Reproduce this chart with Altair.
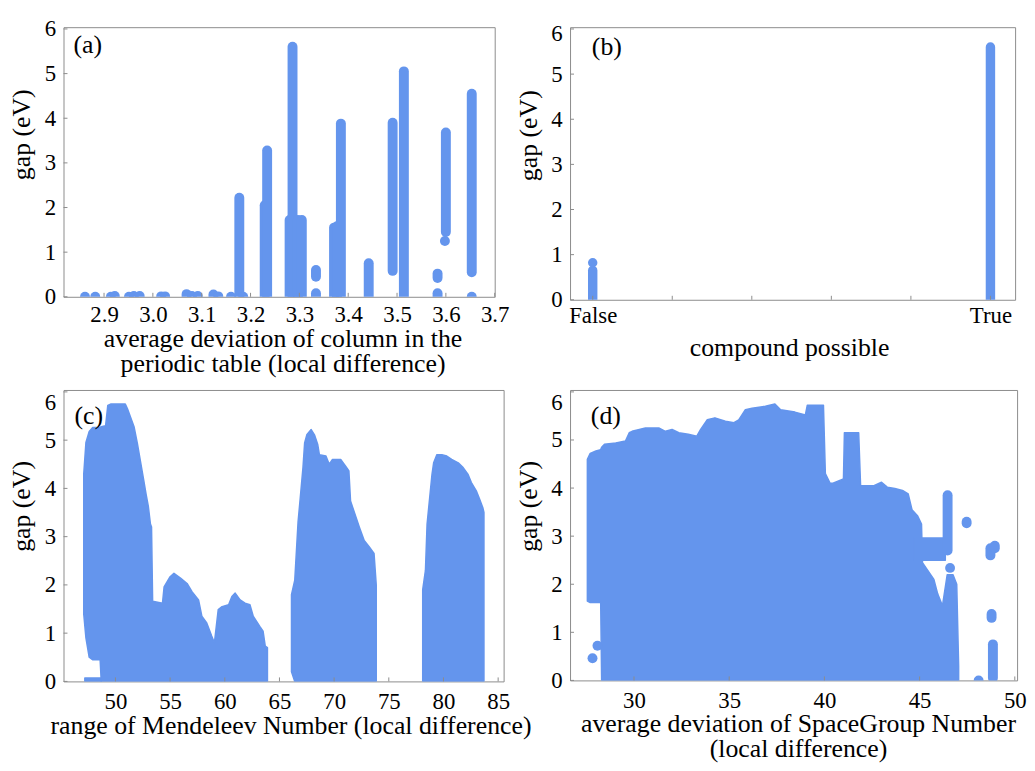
import altair as alt
import pandas as pd

BLUE = "#6495ED"
FRAME = "#8c8c8c"
FONT = "Liberation Serif"

# ---------------- panel (a): vertical runs of points (x, gap low, gap high)
A_X = [2.861, 2.882, 2.914, 2.922, 2.951, 2.961, 2.973, 3.017, 3.025, 3.069, 3.080, 3.092,
       3.124, 3.134, 3.160, 3.177, 3.185, 3.229, 3.234, 3.280, 3.286, 3.297, 3.305, 3.334,
       3.334, 3.371, 3.377, 3.385, 3.442, 3.491, 3.514, 3.583, 3.583, 3.598, 3.600, 3.653, 3.653]
A_LO = [0, 0, 0, 0, 0, 0, 0, 0, 0, 0, 0, 0, 0, 0, 0, 0, 0, 0, 0, 0, 0, 0, 0, 0,
        0.45, 0, 0, 0, 0, 0.58, 0, 0, 0.42, 1.25, 1.45, 0, 0.55]
A_HI = [0, 0, 0, 0.02, 0, 0.02, 0.02, 0.01, 0.01, 0.06, 0.02, 0.02, 0.05, 0.01, 0.0, 2.22,
        0.0, 2.05, 3.28, 1.72, 5.6, 1.72, 1.72, 0.08, 0.6, 1.55, 1.58, 3.88, 0.75, 3.9, 5.05,
        0.08, 0.52, 1.25, 3.68, 0, 4.55]
A_TICKS = [2.9, 3.0, 3.1, 3.2, 3.3, 3.4, 3.5, 3.6, 3.7]

# ---------------- panel (b)
B_X = [0, 0, 1]
B_LO = [0, 0.82, 0]
B_HI = [0.65, 0.82, 5.6]
B_TICKS = [0, 0.2, 0.4, 0.6, 0.8, 1.0]
B_LABELS = [0, 1]

# ---------------- panel (c): envelopes of the dense point clouds
C0_X = [47.2, 48.7]
C0_LO = [0, 0]
C0_HI = [0.07, 0.07]
C1_X = [47.1, 47.3, 47.6, 47.9, 48.6, 48.7, 49.1, 49.3, 49.6, 50.9, 51.1, 51.7, 52.0, 52.6,
        52.8, 53.0, 53.2, 53.3, 53.4, 54.3, 54.45, 55.0, 55.35, 55.95, 56.55, 57.0, 57.6,
        57.9, 58.35, 58.8, 59.05, 59.4, 59.75, 60.35, 60.65, 60.95, 61.4, 61.85, 62.3, 62.6,
        63.2, 63.5, 63.7, 63.9]
C1_LO = [1.4, 0.9, 0.5, 0.45, 0.45] + [0] * 39
C1_HI = [4.3, 4.95, 5.18, 5.26, 5.26, 5.28, 5.3, 5.72, 5.75, 5.75, 5.65, 5.28, 4.94, 4.15,
         3.88, 3.64, 3.26, 3.2, 1.66, 1.62, 1.96, 2.17, 2.24, 2.14, 2.03, 1.86, 1.69, 1.35,
         1.21, 0.94, 0.8, 1.49, 1.55, 1.59, 1.76, 1.83, 1.69, 1.62, 1.59, 1.35, 1.14, 1.04,
         0.73, 0.7]
C2_X = [66.1, 66.4, 66.7, 66.9, 67.15, 67.3, 67.5, 67.9, 68.2, 68.5, 68.65, 69.25, 69.55,
        69.85, 70.6, 71.05, 71.35, 71.5, 72.0, 72.3, 72.75, 73.2, 73.65, 73.85]
C2_LO = [0.2] + [0] * 23
C2_HI = [1.8, 2.1, 3.3, 3.8, 4.43, 4.94, 5.11, 5.22, 5.11, 4.91, 4.7, 4.67, 4.5, 4.6, 4.6,
         4.46, 4.36, 3.74, 3.4, 3.2, 2.92, 2.79, 2.65, 2.0]
C3_X = [78.1, 78.35, 78.5, 78.8, 78.95, 79.1, 79.4, 79.85, 80.3, 80.75, 81.35, 81.8, 82.25,
        82.55, 83.0, 83.3, 83.6, 83.7]
C3_LO = [0] * 18
C3_HI = [1.9, 2.3, 3.26, 3.95, 4.29, 4.53, 4.7, 4.7, 4.67, 4.6, 4.53, 4.43, 4.29, 4.12, 3.95,
         3.78, 3.6, 3.5]
C_TICKS = [50, 55, 60, 65, 70, 75, 80, 85]

# ---------------- panel (d)
D1_X = [27.55, 27.7, 28.0, 28.25, 28.3, 28.45, 29.05, 29.55, 29.75, 29.9, 30.6, 31.3, 31.65,
        32.0, 32.35, 32.85, 33.3, 33.5, 33.85, 34.25, 34.8, 35.25, 35.5, 35.85, 36.2, 36.9,
        37.4, 37.7, 38.45, 39.0, 39.1, 39.95, 40.05, 40.3, 40.45, 41.0, 41.05, 41.8, 41.9,
        42.6, 43.0, 43.3, 43.7, 44.1, 44.4, 44.6, 44.9, 45.1, 45.15, 45.75, 45.95, 46.2,
        46.45, 46.75, 46.95, 47.05]
D1_LO = [1.65, 1.62, 1.62, 1.62] + [0] * 52
D1_HI = [4.6, 4.72, 4.77, 4.8, 4.85, 4.91, 4.94, 4.98, 5.15, 5.18, 5.25, 5.25, 5.18, 5.22,
         5.15, 5.12, 5.08, 5.22, 5.42, 5.46, 5.39, 5.36, 5.42, 5.63, 5.66, 5.7, 5.75, 5.63,
         5.58, 5.52, 5.72, 5.72, 4.3, 4.1, 4.1, 4.19, 5.15, 5.15, 4.05, 4.05, 4.12, 4.02,
         3.99, 3.95, 3.88, 3.55, 3.42, 3.25, 2.45, 2.1, 1.8, 1.55, 2.2, 2.2, 2.0, 0.3]
D2_X = [44.7, 46.35]
D2_LO = [2.5, 2.5]
D2_HI = [2.96, 2.96]
D_SX = [46.47, 46.6, 47.47, 48.1, 48.85, 48.78, 48.72, 48.95, 27.82, 28.08]
D_SLO = [2.7, 2.34, 3.27, 0.0, 0.05, 1.3, 2.6, 2.75, 0.46, 0.72]
D_SHI = [3.85, 2.34, 3.3, 0.0, 0.75, 1.38, 2.75, 2.8, 0.46, 0.72]
D_TICKS = [30, 35, 40, 45, 50]

Y_TICKS = [0, 1, 2, 3, 4, 5, 6]
Y_DOMAIN = [0, 6.04]


def seg_df(xs, lo, hi):
    assert len(xs) == len(lo) == len(hi)
    return pd.DataFrame({"x": xs, "lo": lo, "hi": hi})


def area_df(parts):
    frames = []
    for g, (xs, lo, hi) in enumerate(parts):
        d = seg_df(xs, lo, hi)
        d["g"] = g
        frames.append(d)
    return pd.concat(frames, ignore_index=True)


def panel(w, h, xdom, xticks, xlabels, xtitle, tag, tag_x, tag_y,
          xlab_pad, xtitle_x, xtitle_y, ytitle_y, six_off, xfmt, areas=None, segs=None,
          seg_width=10, label_expr=None):
    xs = alt.Scale(domain=xdom, nice=False, zero=False)
    ys = alt.Scale(domain=Y_DOMAIN, nice=False, zero=False)
    ax_kw = dict(values=xlabels, title=xtitle, labelPadding=xlab_pad,
                 titleX=xtitle_x, titleY=xtitle_y, titleBaseline="top", titleAlign="center",
                 format=xfmt, labelFlush=False, ticks=False, domain=False, grid=False)
    if label_expr:
        ax_kw["labelExpr"] = label_expr
    xaxis = alt.Axis(**ax_kw)
    yaxis = alt.Axis(values=Y_TICKS, title="gap (eV)", labelPadding=8,
                     titleX=-34, titleY=ytitle_y, titleBaseline="alphabetic",
                     titleAlign="center", titleAngle=270,
                     labelFlush=False, ticks=False, domain=False, grid=False,
                     labelOffset=alt.condition("datum.value == 6", alt.value(six_off), alt.value(0)))
    layers = []
    if areas is not None:
        layers.append(
            alt.Chart(areas).mark_area(color=BLUE, stroke=BLUE, strokeWidth=1.5,
                                       strokeJoin="round", clip=True, opacity=1)
            .encode(x=alt.X("x:Q", scale=xs, axis=xaxis),
                    y=alt.Y("hi:Q", scale=ys, axis=yaxis),
                    y2=alt.Y2("lo:Q"),
                    detail="g:N")
        )
    if segs is not None:
        layers.append(
            alt.Chart(segs).mark_rule(color=BLUE, strokeWidth=seg_width, strokeCap="round",
                                      clip=True)
            .encode(x=alt.X("x:Q", scale=xs, axis=xaxis),
                    y=alt.Y("hi:Q", scale=ys, axis=yaxis),
                    y2=alt.Y2("lo:Q"))
        )
    # inward tick marks (same axis definitions so the shared axes merge cleanly)
    layers.append(
        alt.Chart(pd.DataFrame({"t": xticks})).mark_rule(color=FRAME, strokeWidth=1)
        .encode(x=alt.X("t:Q", scale=xs, axis=xaxis), y=alt.value(h), y2=alt.value(h - 4))
    )
    layers.append(
        alt.Chart(pd.DataFrame({"t": Y_TICKS})).mark_rule(color=FRAME, strokeWidth=1)
        .encode(y=alt.Y("t:Q", scale=ys, axis=yaxis), x=alt.value(0), x2=alt.value(4))
    )
    layers.append(
        alt.Chart(pd.DataFrame({"label": [tag]}))
        .mark_text(font=FONT, fontSize=26, align="left", baseline="middle", color="black")
        .encode(text="label:N", x=alt.value(tag_x), y=alt.value(tag_y))
    )
    return alt.layer(*layers).properties(width=w, height=h)


p_a = panel(435, 272, [2.817, 3.7], A_TICKS, A_TICKS,
            ["average deviation of column in the", "periodic table (local difference)"],
            "(a)", 10, 18, 7, 221, 29, 108, 0, ".1f", segs=seg_df(A_X, A_LO, A_HI))
p_b = panel(449, 275, [-0.057, 1.062], B_TICKS, B_LABELS, "compound possible",
            "(b)", 22, 20, 5, 221, 35, 109, 5, "d", segs=seg_df(B_X, B_LO, B_HI), seg_width=9.5,
            label_expr="datum.value == 0 ? 'False' : (datum.value == 1 ? 'True' : '')")
p_c = panel(444, 294, [45.25, 85.5], C_TICKS, C_TICKS,
            "range of Mendeleev Number (local difference)",
            "(c)", 11, 26, 9, 229, 32, 117, 11, "d",
            areas=area_df([(C0_X, C0_LO, C0_HI), (C1_X, C1_LO, C1_HI),
                           (C2_X, C2_LO, C2_HI), (C3_X, C3_LO, C3_HI)]))
p_d = panel(451, 293, [26.64, 50.12], D_TICKS, D_TICKS,
            ["average deviation of SpaceGroup Number", "(local difference)"],
            "(d)", 21, 26, 9, 230, 31, 117, 11, "d",
            areas=area_df([(D1_X, D1_LO, D1_HI), (D2_X, D2_LO, D2_HI)]),
            segs=seg_df(D_SX, D_SLO, D_SHI))

chart = (
    alt.concat(p_a, p_b, p_c, p_d, columns=2, spacing={"row": 91, "column": 67}, bounds="flush")
    .properties(padding={"left": 0, "top": 6, "right": 0, "bottom": 0}, background="white")
    .configure_view(stroke=FRAME, strokeWidth=1)
    .configure_axis(labelFont=FONT, labelFontSize=23, titleFont=FONT, titleFontSize=26,
                    titleFontWeight="normal", labelColor="black", titleColor="black",
                    titleLineHeight=25)
)

chart.save("out.html", embed_options={"renderer": "svg", "actions": False})
